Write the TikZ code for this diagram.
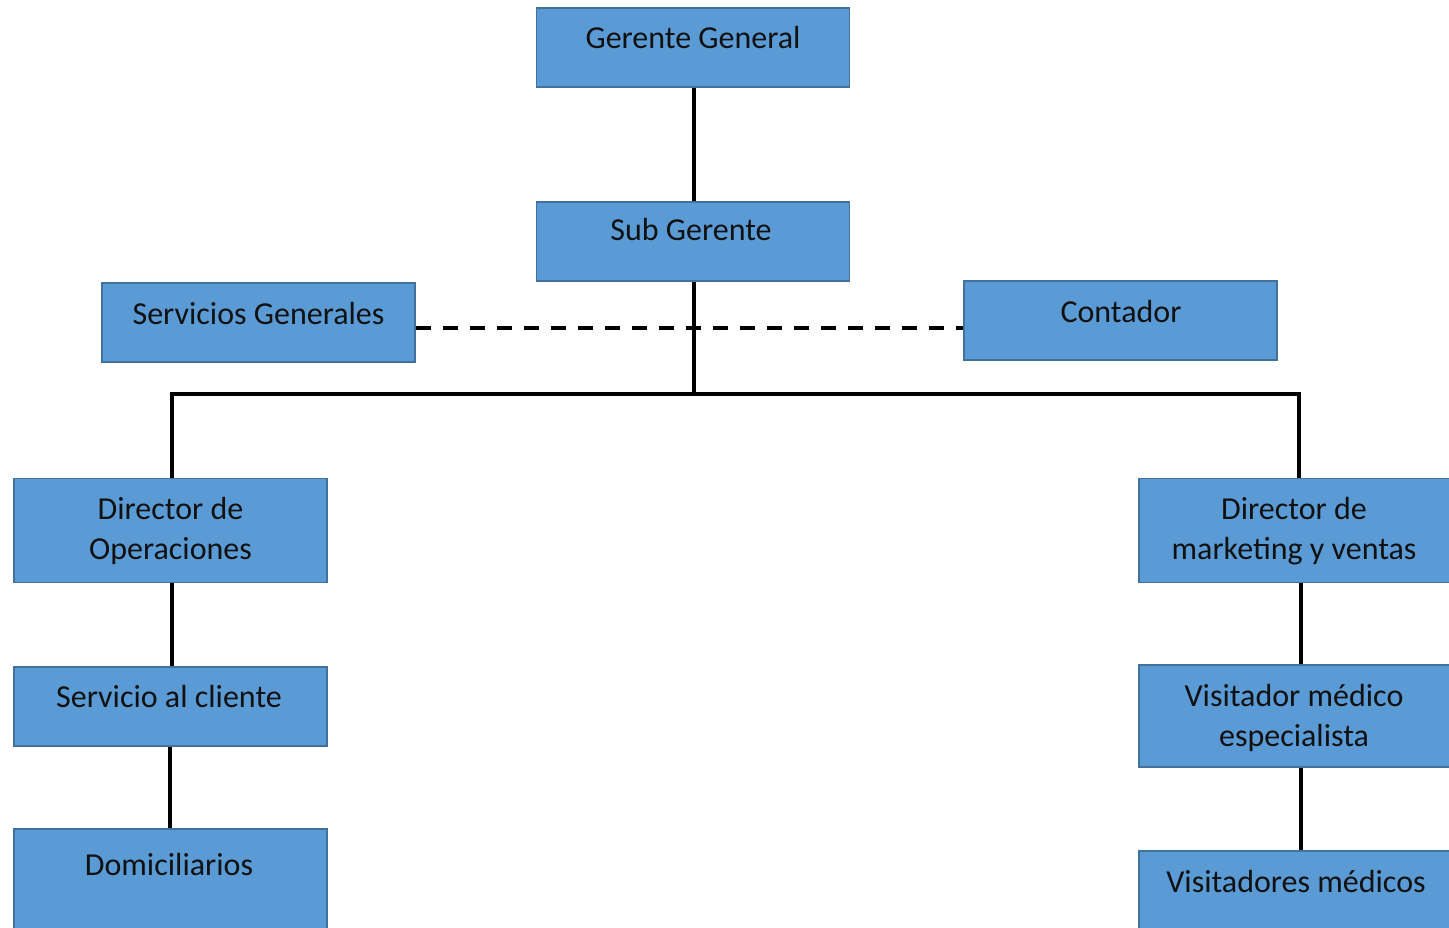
\documentclass[tikz,border=0pt]{standalone}
\usepackage{fontspec}
\setmainfont{Carlito}
\definecolor{boxfill}{HTML}{5B9BD5}
\definecolor{boxline}{HTML}{41719C}
\definecolor{ink}{HTML}{111111}
\begin{document}
\begin{tikzpicture}[x=1pt,y=-1pt,
  box/.style={draw=boxline, fill=boxfill, line width=1.5pt, rectangle, inner sep=0pt,
              minimum width=313pt, minimum height=79pt},
  tallbox/.style={box, minimum height=104pt},
  lbl/.style={text=ink, font=\fontsize{32}{40}\selectfont, align=center, inner sep=0pt},
  link/.style={draw=black, line width=3.3pt},
  dashlink/.style={draw=black, line width=3.5pt, dash pattern=on 15pt off 12pt}]
\useasboundingbox (0,0) rectangle (1449,927);
\clip (0,0) rectangle (1449,927);
\fill[white] (0,0) rectangle (1449,927);

% top management
\node[box] (gg) at (693,47.5) {};
\node[lbl] (ggt) at (693,38) {Gerente General};
\node[box] (sg) at (693,241.5) {};
\node[lbl] (sgt) at (691,230) {Sub Gerente};

% staff units
\node[box] (sgn) at (258.5,322.5) {};
\node[lbl] (sgnt) at (258.5,314) {Servicios Generales};
\node[box] (cont) at (1120.5,320.5) {};
\node[lbl] (contt) at (1121,312) {Contador};

% operations branch
\node[tallbox] (dop) at (170.5,530.5) {};
\node[lbl] (dopt) at (170.5,531) {Director de\\Operaciones};
\node[box] (sac) at (170.5,706.5) {};
\node[lbl] (sact) at (169,696) {Servicio al cliente};
\node[box, minimum height=110pt] (dom) at (170.5,884) {};
\node[lbl] (domt) at (169,864) {Domiciliarios};

% marketing branch
\node[tallbox] (dmk) at (1295.5,530.5) {};
\node[lbl] (dmkt) at (1294,531) {Director de\\marketing y ventas};
\node[tallbox, minimum height=102pt] (vme) at (1295.5,716) {};
\node[lbl] (vmet) at (1294,718) {Visitador médico\\especialista};
\node[box] (vm) at (1295.5,890.5) {};
\node[lbl] (vmt) at (1296,881) {Visitadores médicos};

% connectors
\coordinate (bus) at (694,394);
\draw[link] (gg.south -| 694,0) -- (sg.north -| 694,0);
\draw[link] (sg.south -| 694,0) -- (bus);
\draw[link] (dop.north -| 172,0) |- (bus) -| (dmk.north -| 1299,0);
\draw[link] (dop.south -| 172,0) -- (sac.north -| 172,0);
\draw[link] (sac.south -| 170,0) -- (dom.north -| 170,0);
\draw[link] (dmk.south -| 1301,0) -- (vme.north -| 1301,0);
\draw[link] (vme.south -| 1301,0) -- (vm.north -| 1301,0);
\draw[dashlink] (sgn.east |- 0,328) -- (cont.west |- 0,328);
\end{tikzpicture}
\end{document}
